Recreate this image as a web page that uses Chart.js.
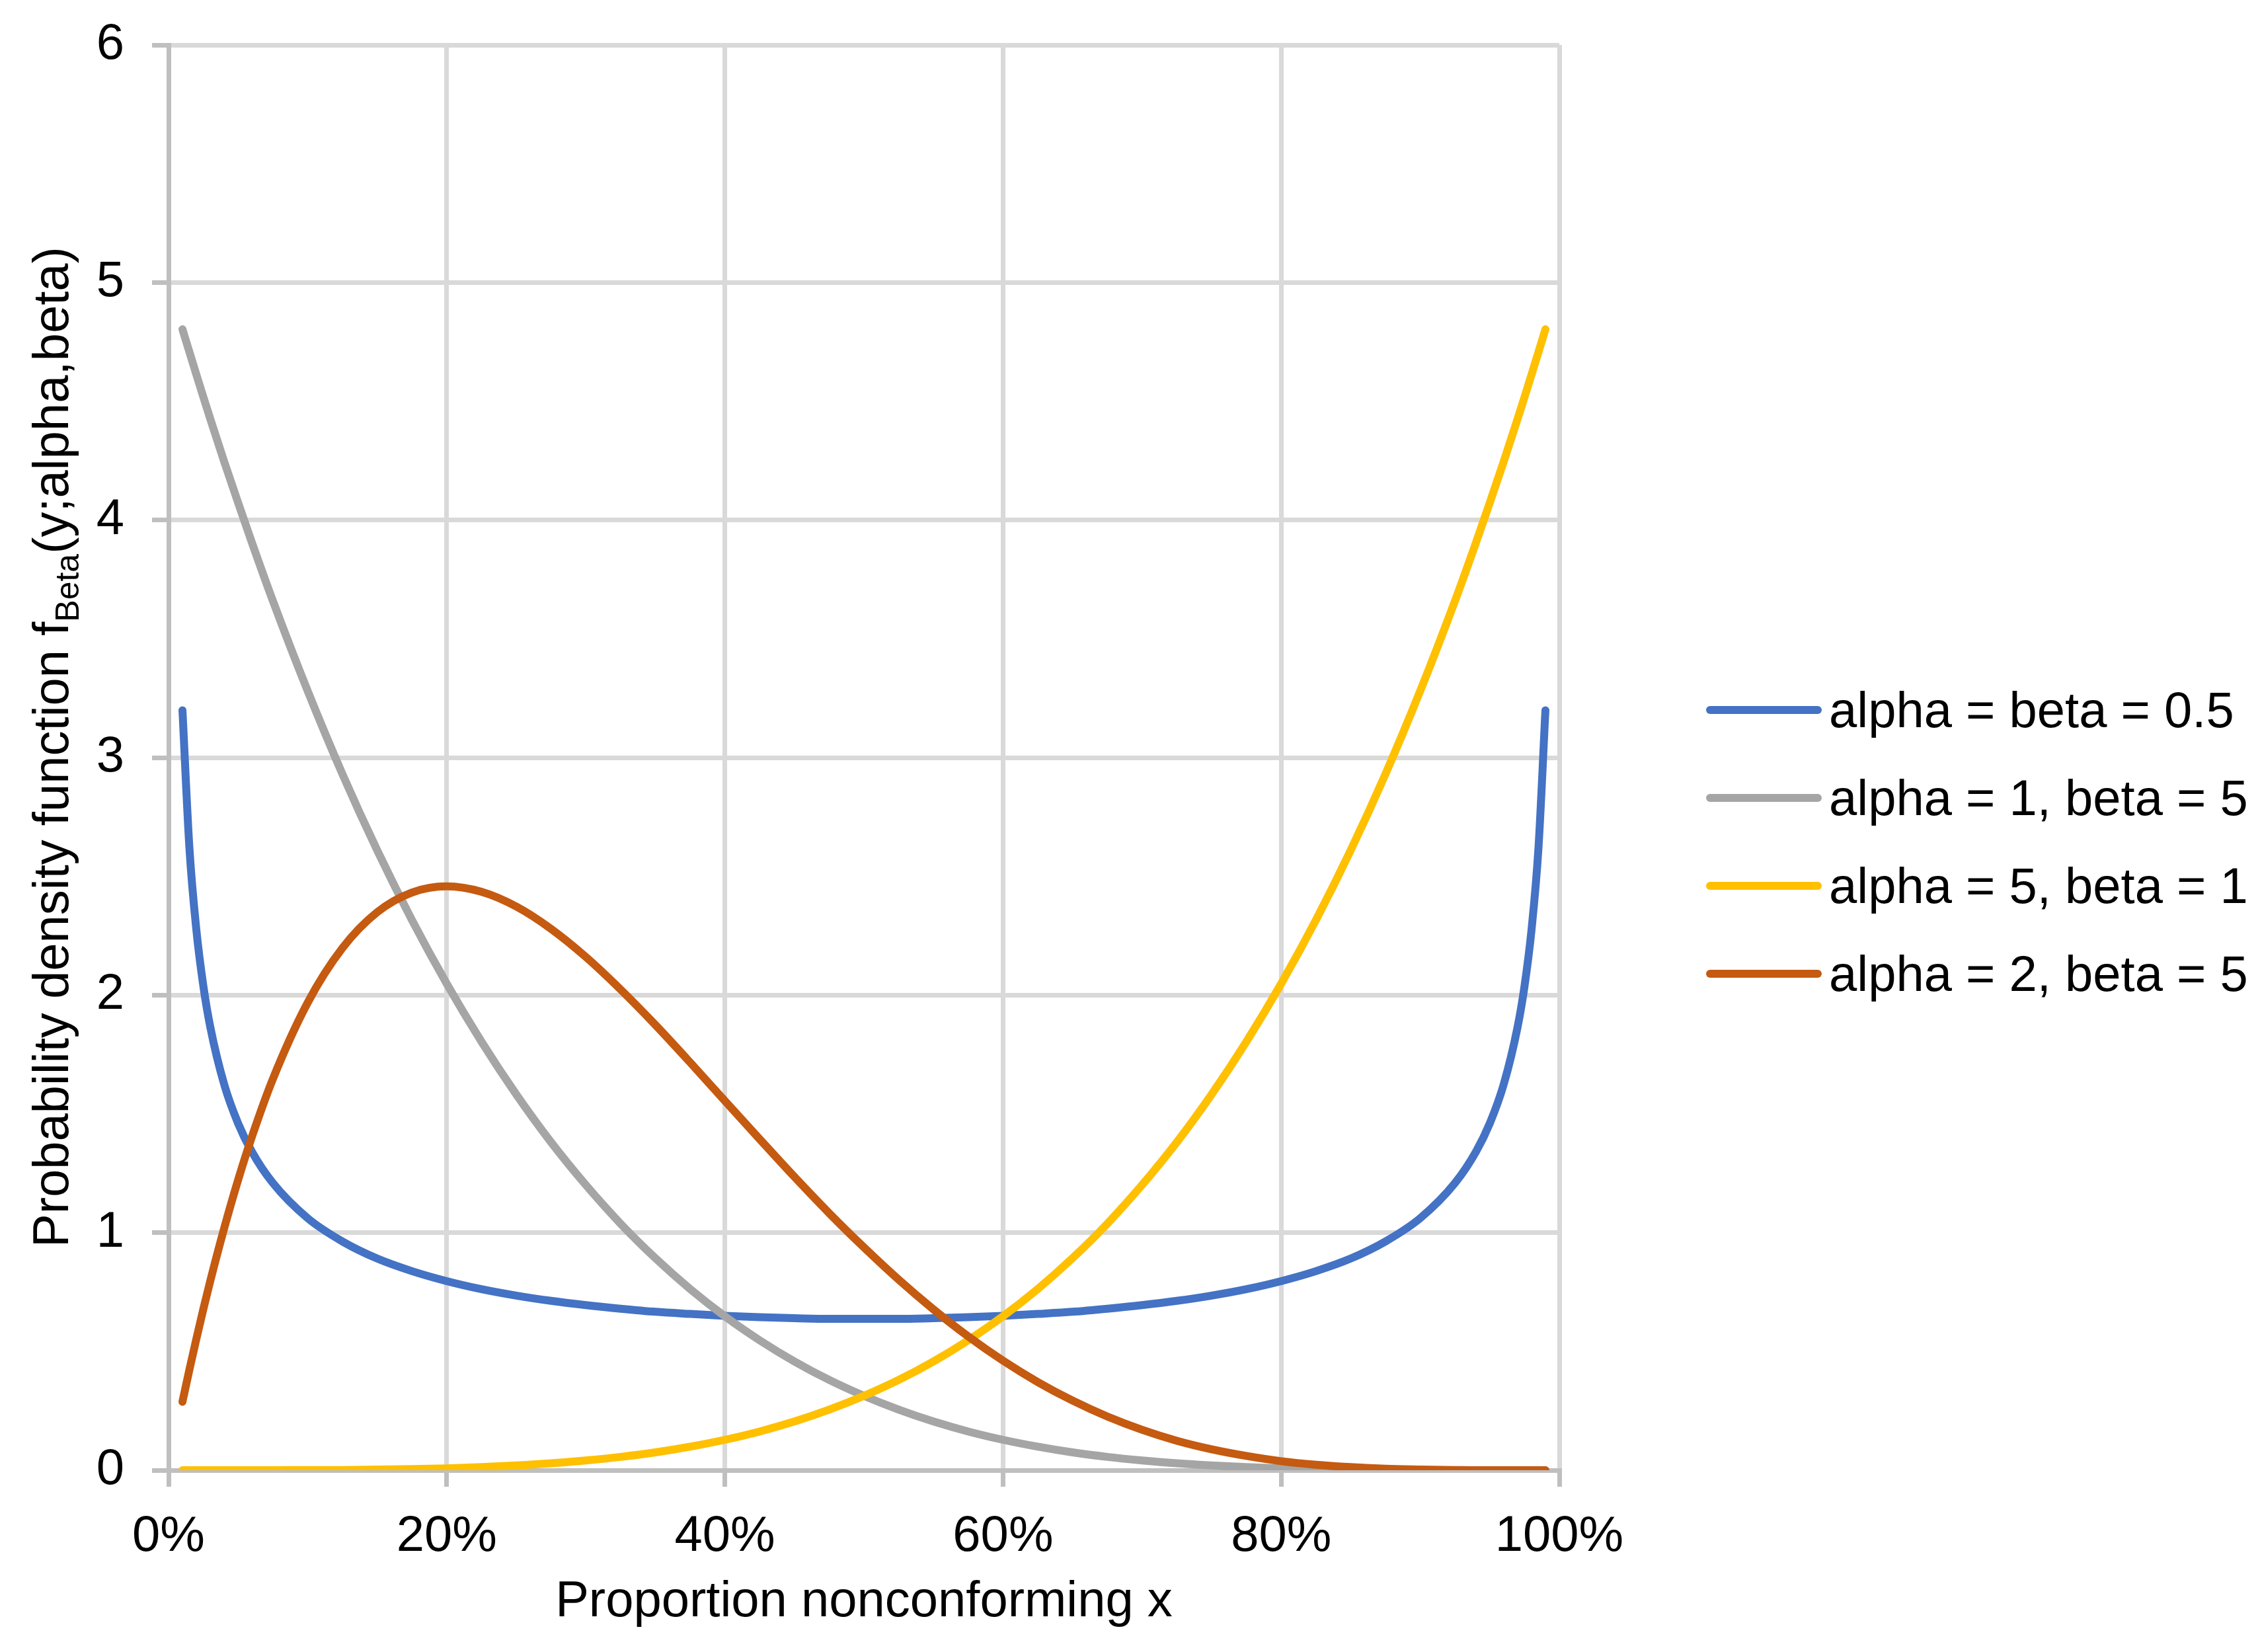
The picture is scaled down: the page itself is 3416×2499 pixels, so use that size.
<!DOCTYPE html>
<html>
<head>
<meta charset="utf-8">
<script src="https://cdn.jsdelivr.net/npm/chart.js@4.4.1/dist/chart.umd.min.js"></script>
<style>
  html, body { margin: 0; padding: 0; background: #fff; }
  #wrap { width: 3416px; height: 2499px; }
</style>
</head>
<body>
<div id="wrap"><canvas id="myChart" width="3416" height="2499"></canvas></div>
<script>
// proportion nonconforming (x) sample points
const xValues = [0.01, 0.015, 0.02, 0.025, 0.03, 0.04, 0.05, 0.06, 0.075, 0.1,
                 0.125, 0.15, 0.175, 0.2, 0.225, 0.25, 0.275, 0.3, 0.325, 0.35, 0.375, 0.4, 0.425, 0.45, 0.475, 0.5,
                 0.525, 0.55, 0.575, 0.6, 0.625, 0.65, 0.675, 0.7, 0.725, 0.75, 0.775, 0.8, 0.825, 0.85, 0.875,
                 0.9, 0.925, 0.94, 0.95, 0.96, 0.97, 0.975, 0.98, 0.985, 0.99];

// density values
const halfHalf = [3.199, 2.619, 2.274, 2.039, 1.866, 1.624, 1.460, 1.340, 1.209, 1.061,
                  0.963, 0.891, 0.838, 0.796, 0.762, 0.735, 0.713, 0.695, 0.680, 0.667, 0.658, 0.650, 0.644, 0.640, 0.637, 0.637,
                  0.637, 0.640, 0.644, 0.650, 0.658, 0.667, 0.680, 0.695, 0.713, 0.735, 0.762, 0.796, 0.838, 0.891, 0.963,
                  1.061, 1.209, 1.340, 1.460, 1.624, 1.866, 2.039, 2.274, 2.619, 3.199];
const oneFive = [4.803, 4.707, 4.612, 4.518, 4.426, 4.246, 4.073, 3.904, 3.660, 3.281,
                 2.931, 2.610, 2.316, 2.048, 1.804, 1.582, 1.381, 1.201, 1.038, 0.893, 0.763, 0.648, 0.547, 0.458, 0.380, 0.313,
                 0.255, 0.205, 0.163, 0.128, 0.099, 0.075, 0.056, 0.041, 0.029, 0.020, 0.013, 0.008, 0.005, 0.003, 0.001,
                 0.0005, 0.0002, 0, 0, 0, 0, 0, 0, 0, 0];
const fiveOne = [0, 0, 0, 0, 0, 0, 0, 0, 0.0002, 0.0005,
                 0.001, 0.003, 0.005, 0.008, 0.013, 0.020, 0.029, 0.041, 0.056, 0.075, 0.099, 0.128, 0.163, 0.205, 0.255, 0.313,
                 0.380, 0.458, 0.547, 0.648, 0.763, 0.893, 1.038, 1.201, 1.381, 1.582, 1.804, 2.048, 2.316, 2.610, 2.931,
                 3.281, 3.660, 3.904, 4.073, 4.246, 4.426, 4.518, 4.612, 4.707, 4.803];
const twoFive = [0.288, 0.424, 0.553, 0.678, 0.797, 1.019, 1.222, 1.405, 1.647, 1.968,
                 2.198, 2.349, 2.432, 2.458, 2.435, 2.373, 2.279, 2.161, 2.024, 1.875, 1.717, 1.555, 1.394, 1.235, 1.082, 0.938,
                 0.802, 0.677, 0.563, 0.461, 0.371, 0.293, 0.226, 0.170, 0.124, 0.088, 0.060, 0.038, 0.023, 0.013, 0.006,
                 0.003, 0.001, 0, 0, 0, 0, 0, 0, 0, 0];

const seriesLabels = ['alpha = beta = 0.5', 'alpha = 1, beta = 5', 'alpha = 5, beta = 1', 'alpha = 2, beta = 5'];
const seriesColors = ['#4472C4', '#A5A5A5', '#FFC000', '#C55A11'];
const seriesValues = [halfHalf, oneFive, fiveOne, twoFive];

const xTickLabels = ['0%', '20%', '40%', '60%', '80%', '100%'];
const yTickLabels = ['0', '1', '2', '3', '4', '5', '6'];

const fontFamily = "'Liberation Sans', Arial, sans-serif";

const datasets = seriesValues.map((vals, i) => ({
    label: seriesLabels[i],
    data: vals.map((v, j) => ({ x: xValues[j], y: v })),
    borderColor: seriesColors[i],
    backgroundColor: seriesColors[i],
    borderWidth: 12,
    borderCapStyle: 'round',
    borderJoinStyle: 'round',
    pointRadius: 0,
    showLine: true,
    fill: false,
    cubicInterpolationMode: 'monotone',
    order: seriesValues.length - i
}));

// y axis title with subscript
const yTitlePlugin = {
    id: 'yTitle',
    afterDraw(chart) {
        const c = chart.ctx;
        c.save();
        c.translate(103, 1887);
        c.rotate(-Math.PI / 2);
        c.fillStyle = '#000';
        c.textBaseline = 'alphabetic';
        c.textAlign = 'left';
        let x = 0;
        c.font = '76px ' + fontFamily;
        const main = 'Probability density function f';
        c.fillText(main, x, 0);
        x += c.measureText(main).width;
        c.font = '50px ' + fontFamily;
        c.fillText('Beta', x, 16);
        x += c.measureText('Beta').width;
        c.font = '76px ' + fontFamily;
        c.fillText('(y;alpha,beta)', x, 0);
        c.restore();
    }
};

// legend at the right
const legendPlugin = {
    id: 'sideLegend',
    afterDraw(chart) {
        const c = chart.ctx;
        c.save();
        chart.data.datasets.forEach((ds, i) => {
            const y = 1074 + 133 * i;
            c.strokeStyle = ds.borderColor;
            c.lineWidth = 12;
            c.lineCap = 'round';
            c.beginPath();
            c.moveTo(2587, y);
            c.lineTo(2750, y);
            c.stroke();
            c.fillStyle = '#000';
            c.font = '76px ' + fontFamily;
            c.textBaseline = 'alphabetic';
            c.textAlign = 'left';
            c.fillText(ds.label, 2767, y + 26);
        });
        c.restore();
    }
};

const ctx = document.getElementById('myChart').getContext('2d');

new Chart(ctx, {
    type: 'scatter',
    data: { datasets },
    options: {
        responsive: false,
        animation: false,
        devicePixelRatio: 1,
        layout: { padding: { top: 68, right: 1057, bottom: 0, left: 0 } },
        plugins: {
            legend: { display: false },
            tooltip: { enabled: false }
        },
        scales: {
            x: {
                type: 'linear',
                min: 0,
                max: 1,
                afterFit(scale) { scale.height = 275; },
                ticks: {
                    stepSize: 0.2,
                    color: '#000',
                    padding: 30,
                    maxRotation: 0,
                    font: { family: fontFamily, size: 76 },
                    callback: (v, i) => xTickLabels[i]
                },
                grid: { color: '#D9D9D9', lineWidth: 7, tickColor: '#BFBFBF', tickLength: 25, tickWidth: 7 },
                border: { color: '#BFBFBF', width: 7 },
                title: {
                    display: true,
                    text: 'Proportion nonconforming x',
                    color: '#000',
                    font: { family: fontFamily, size: 76 },
                    padding: { top: 0, bottom: 29 }
                }
            },
            y: {
                min: 0,
                max: 6,
                afterFit(scale) {
                    scale.width = 255;
                    scale.paddingTop = 0;
                    scale.paddingBottom = 0;
                },
                ticks: {
                    stepSize: 1,
                    color: '#000',
                    padding: 42,
                    font: { family: fontFamily, size: 76 },
                    callback: (v, i) => yTickLabels[i]
                },
                grid: { color: '#D9D9D9', lineWidth: 7, tickColor: '#BFBFBF', tickLength: 25, tickWidth: 7 },
                border: { color: '#BFBFBF', width: 7 }
            }
        }
    },
    plugins: [yTitlePlugin, legendPlugin]
});
</script>
</body>
</html>
